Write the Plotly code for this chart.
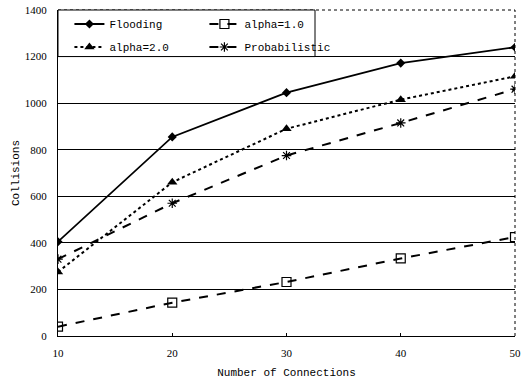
import plotly.graph_objects as go

connections = [10, 20, 30, 40, 50]
flooding = [405, 855, 1045, 1172, 1240]
alpha1 = [40, 143, 232, 333, 425]
alpha2 = [275, 660, 890, 1015, 1115]
probabilistic = [330, 570, 775, 915, 1060]

mono = "Liberation Mono"
serif = "Liberation Serif"

fig = go.Figure()
fig.add_trace(go.Scatter(x=connections, y=flooding, name="Flooding", mode="lines+markers",
                         line=dict(color="black", width=1.8),
                         marker=dict(symbol="diamond", size=7, color="black"), legend="legend"))
fig.add_trace(go.Scatter(x=connections, y=alpha1, name="alpha=1.0", mode="lines+markers",
                         line=dict(color="black", width=2, dash="dash"),
                         marker=dict(symbol="square-open", size=9, color="black", line=dict(width=1.2)),
                         legend="legend"))
fig.add_trace(go.Scatter(x=connections, y=alpha2, name="alpha=2.0", mode="lines+markers",
                         line=dict(color="black", width=2, dash="dot"),
                         marker=dict(symbol="triangle-up", size=9, color="black"), legend="legend2"))
fig.add_trace(go.Scatter(x=connections, y=probabilistic, name="Probabilistic", mode="lines+markers",
                         line=dict(color="black", width=2, dash="dash"),
                         marker=dict(symbol="asterisk-open", size=8, color="black", line=dict(width=1.2, color="black")),
                         legend="legend2"))

leg_common = dict(orientation="h", entrywidth=90, bgcolor="rgba(0,0,0,0)", borderwidth=0,
                  font=dict(family=mono, size=11, color="black"), xanchor="left", yanchor="middle",
                  itemwidth=30, tracegroupgap=0)

fig.update_layout(
    width=522, height=379,
    margin=dict(l=58, r=7, t=10, b=43, autoexpand=False),
    paper_bgcolor="white", plot_bgcolor="white",
    showlegend=True,
    legend=dict(x=0.025, y=1 - 14 / 326, **leg_common),
    legend2=dict(x=0.025, y=1 - 37 / 326, **leg_common),
    xaxis=dict(range=[10, 50], tickvals=connections, showgrid=False, zeroline=False,
               showline=True, linecolor="black", linewidth=1, ticks="inside", ticklen=3,
               tickcolor="black", ticklabelstandoff=7,
               tickfont=dict(family=serif, size=11, color="black"),
               title=dict(text="Number of Connections", font=dict(family=mono, size=11, color="black"), standoff=12)),
    yaxis=dict(range=[0, 1400], dtick=200, showgrid=True, gridcolor="black", gridwidth=1,
               zeroline=False, showline=True, linecolor="black", linewidth=1, ticks="",
               ticklabelstandoff=8,
               tickfont=dict(family=serif, size=11, color="black"),
               title=dict(text="Collisions", font=dict(family=mono, size=11, color="black"), standoff=2)),
    shapes=[
        dict(type="line", xref="paper", yref="paper", x0=0, x1=1, y0=1, y1=1,
             line=dict(color="black", width=1, dash="dot"), layer="above"),
        dict(type="line", xref="paper", yref="paper", x0=1, x1=1, y0=0, y1=1,
             line=dict(color="black", width=1, dash="dot"), layer="above"),
        dict(type="rect", xref="paper", yref="paper", x0=0, x1=(315 - 58) / 457, y0=1200 / 1400, y1=1,
             fillcolor="white", line=dict(color="black", width=1), layer="above"),
    ],
)

fig.write_html("out.html")
